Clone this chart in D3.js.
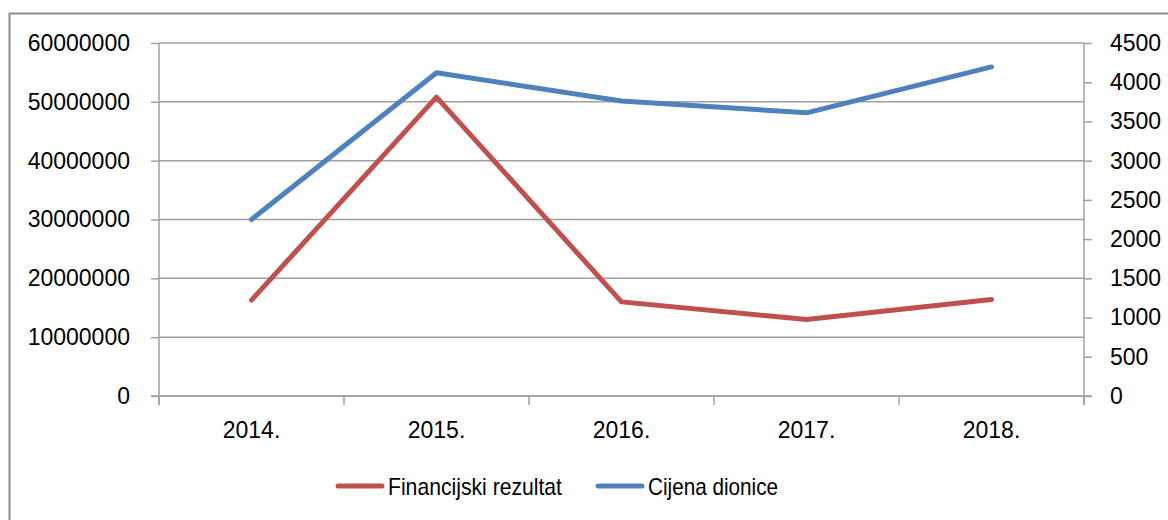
<!DOCTYPE html>
<html>
<head>
<meta charset="utf-8">
<script src="https://cdn.jsdelivr.net/npm/d3@7"></script>
<style>
  body { margin: 0; background: #fff; }
  svg text { font-family: "Liberation Sans", Arial, sans-serif; fill: #000; }
</style>
</head>
<body>
<svg></svg>
<script>
const size = { w: 1168, h: 520 };
const margin = { t: 43, r: 84, b: 124, l: 159 };

const years = ["2014.", "2015.", "2016.", "2017.", "2018."];
const financijskiRezultat = [16300000, 50800000, 16000000, 13000000, 16400000];
const cijenaDionice = [2250, 4120, 3760, 3610, 4195];
const leftTicks = [0, 10000000, 20000000, 30000000, 40000000, 50000000, 60000000];
const rightTicks = [0, 500, 1000, 1500, 2000, 2500, 3000, 3500, 4000, 4500];

const svg = d3.select("svg").attr("width", size.w).attr("height", size.h);

// chart border
svg.append("rect")
	.attr("x", 9.5).attr("y", 13.5)
	.attr("width", 1200).attr("height", 600)
	.attr("fill", "none").attr("stroke", "#8c8c8c").attr("stroke-width", 2);

const innerW = size.w - margin.l - margin.r;
const innerH = size.h - margin.t - margin.b;

const g = svg.append("g").attr("transform", `translate(${margin.l},${margin.t})`);

const x = d3.scaleBand().domain(years).range([0, innerW]);
const yL = d3.scaleLinear().domain([0, 60000000]).range([innerH, 0]);
const yR = d3.scaleLinear().domain([0, 4500]).range([innerH, 0]);

const gridColor = "#a0a0a0";

// gridlines
g.append("g")
	.selectAll("line")
	.data(leftTicks)
	.enter()
	.append("line")
	.attr("x1", 0).attr("x2", innerW)
	.attr("y1", d => yL(d)).attr("y2", d => yL(d))
	.attr("stroke", gridColor).attr("stroke-width", 1.5);

// left axis
const leftAxis = g.append("g")
	.call(d3.axisLeft(yL).tickValues(leftTicks).tickFormat(d3.format("d")).tickSize(8).tickPadding(21));

// right axis
const rightAxis = g.append("g")
	.attr("transform", `translate(${innerW},0)`)
	.call(d3.axisRight(yR).tickValues(rightTicks).tickFormat(d3.format("d")).tickSize(8).tickPadding(18));

// bottom axis with ticks between categories
const bottomAxis = g.append("g")
	.attr("transform", `translate(0,${innerH})`)
	.call(d3.axisBottom(x).tickSize(0).tickPadding(26));

bottomAxis.selectAll(".sep")
	.data(d3.range(years.length + 1))
	.enter()
	.append("line")
	.attr("x1", i => i * x.bandwidth()).attr("x2", i => i * x.bandwidth())
	.attr("y1", 0).attr("y2", 9)
	.attr("stroke", gridColor).attr("stroke-width", 1.5);

[leftAxis, rightAxis, bottomAxis].forEach(a => {
	a.select(".domain").attr("stroke", gridColor).attr("stroke-width", 1.5);
	a.selectAll(".tick line").attr("stroke", gridColor).attr("stroke-width", 1.5);
	a.selectAll("text").style("font-size", "23px");
});
leftAxis.select(".domain").attr("d", `M0,${innerH + 9}V0`);
rightAxis.select(".domain").attr("d", `M0,${innerH + 9}V0`);
bottomAxis.select(".domain").attr("d", `M-8,0H${innerW + 8}`);

const cx = d => x(d) + x.bandwidth() / 2;

const lineL = d3.line().x((d, i) => cx(years[i])).y(d => yL(d));
const lineR = d3.line().x((d, i) => cx(years[i])).y(d => yR(d));

g.append("path")
	.datum(financijskiRezultat)
	.attr("d", lineL)
	.attr("fill", "none").attr("stroke", "#c0504d")
	.attr("stroke-width", 5).attr("stroke-linecap", "round").attr("stroke-linejoin", "round");

g.append("path")
	.datum(cijenaDionice)
	.attr("d", lineR)
	.attr("fill", "none").attr("stroke", "#4f81bd")
	.attr("stroke-width", 5).attr("stroke-linecap", "round").attr("stroke-linejoin", "round");

// legend
const legend = [
	{ name: "Financijski rezultat", color: "#c0504d", x: 338, len: 174 },
	{ name: "Cijena dionice", color: "#4f81bd", x: 598, len: 130 },
];
const lg = svg.append("g");
legend.forEach(d => {
	lg.append("line")
		.attr("x1", d.x).attr("x2", d.x + 44)
		.attr("y1", 486).attr("y2", 486)
		.attr("stroke", d.color).attr("stroke-width", 5).attr("stroke-linecap", "round");
	lg.append("text")
		.attr("x", d.x + 50).attr("y", 495)
		.attr("textLength", d.len).attr("lengthAdjust", "spacingAndGlyphs")
		.style("font-size", "24px")
		.text(d.name);
});
</script>
</body>
</html>
